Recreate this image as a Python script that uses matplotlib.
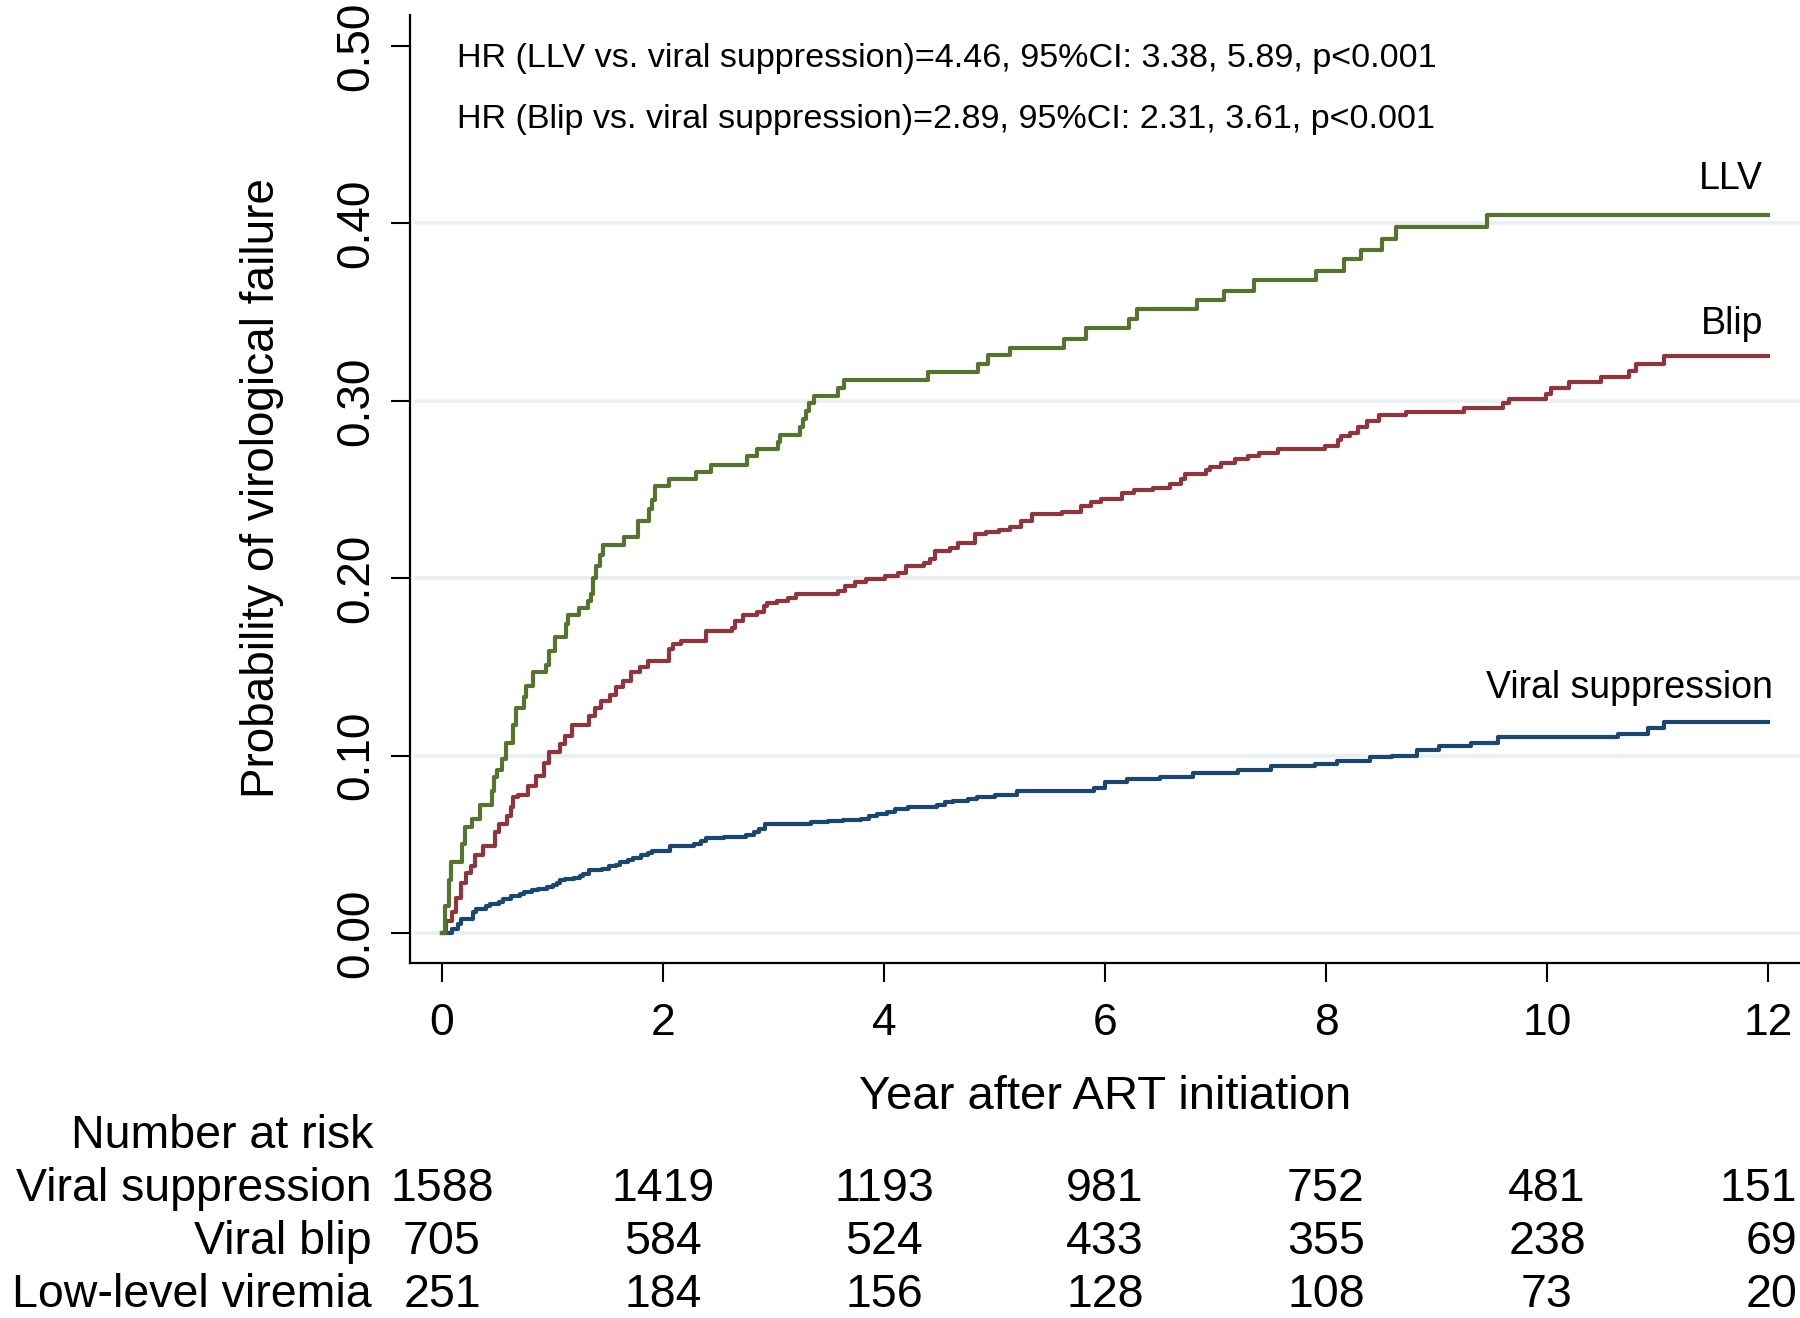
import matplotlib
matplotlib.use("Agg")
import matplotlib.pyplot as plt
import matplotlib.transforms as mtransforms

plt.rcParams['font.family'] = ['Liberation Sans', 'DejaVu Sans']

# Kaplan-Meier failure curves (years, cumulative probability)
llv_t = [0, 0.03, 0.06, 0.08, 0.18, 0.21, 0.27, 0.34, 0.45, 0.47, 0.50, 0.54, 0.58,
         0.64, 0.67, 0.74, 0.76, 0.82, 0.94, 0.97, 1.02, 1.12, 1.14, 1.24, 1.32, 1.35,
         1.37, 1.39, 1.43, 1.46, 1.65, 1.77, 1.87, 1.90, 1.93, 2.05, 2.30, 2.43, 2.76,
         2.85, 3.04, 3.06, 3.24, 3.27, 3.29, 3.32, 3.37, 3.58, 3.64, 4.40, 4.85, 4.94,
         5.14, 5.63, 5.83, 6.22, 6.29, 6.83, 7.08, 7.35, 7.91, 8.16, 8.32, 8.51, 8.63,
         9.46, 12.0]
llv_p = [0, 0.015, 0.030, 0.040, 0.050, 0.060, 0.064, 0.072, 0.080, 0.088, 0.092, 0.098, 0.107,
         0.117, 0.127, 0.133, 0.139, 0.147, 0.151, 0.159, 0.167, 0.174, 0.179, 0.183, 0.187, 0.191,
         0.200, 0.207, 0.213, 0.219, 0.223, 0.232, 0.239, 0.244, 0.252, 0.256, 0.260, 0.264, 0.269,
         0.273, 0.277, 0.281, 0.285, 0.290, 0.294, 0.299, 0.303, 0.307, 0.312, 0.316, 0.321, 0.326,
         0.330, 0.335, 0.341, 0.346, 0.352, 0.357, 0.362, 0.368, 0.373, 0.380, 0.385, 0.391, 0.398,
         0.405, 0.405]

blip_t = [0, 0.04, 0.09, 0.13, 0.17, 0.22, 0.26, 0.30, 0.37, 0.48, 0.52, 0.59, 0.62, 0.64,
          0.69, 0.78, 0.85, 0.92, 0.97, 1.07, 1.11, 1.18, 1.33, 1.38, 1.44, 1.52, 1.57, 1.64,
          1.71, 1.79, 1.86, 2.05, 2.09, 2.16, 2.39, 2.62, 2.65, 2.72, 2.85, 2.91, 2.94, 3.03,
          3.13, 3.20, 3.58, 3.65, 3.74, 3.84, 4.01, 4.13, 4.20, 4.36, 4.42, 4.46, 4.60, 4.67,
          4.82, 4.92, 5.04, 5.14, 5.24, 5.34, 5.61, 5.78, 5.87, 5.96, 6.15, 6.26, 6.43, 6.59,
          6.69, 6.72, 6.91, 6.95, 7.05, 7.18, 7.29, 7.39, 7.57, 7.99, 8.11, 8.14, 8.22, 8.29,
          8.37, 8.48, 8.72, 9.25, 9.60, 9.66, 9.99, 10.04, 10.20, 10.49, 10.74, 10.81, 11.06,
          12.0]
blip_p = [0, 0.007, 0.012, 0.020, 0.028, 0.034, 0.038, 0.044, 0.049, 0.057, 0.0615, 0.066, 0.071, 0.0765,
          0.078, 0.083, 0.0887, 0.096, 0.102, 0.1066, 0.111, 0.117, 0.1225, 0.127, 0.131, 0.134, 0.1385, 0.142,
          0.147, 0.150, 0.1535, 0.160, 0.163, 0.1647, 0.1704, 0.172, 0.176, 0.179, 0.1807, 0.1844, 0.1863, 0.1869,
          0.189, 0.191, 0.193, 0.1957, 0.198, 0.1994, 0.2013, 0.2032, 0.207, 0.2088, 0.2107, 0.2154, 0.2173, 0.220,
          0.225, 0.226, 0.227, 0.229, 0.2325, 0.236, 0.2375, 0.2407, 0.243, 0.2446, 0.248, 0.250, 0.251, 0.253,
          0.2558, 0.259, 0.261, 0.2627, 0.265, 0.267, 0.2688, 0.2705, 0.2726, 0.2748, 0.278, 0.280, 0.282, 0.285,
          0.2886, 0.292, 0.2935, 0.2957, 0.299, 0.301, 0.304, 0.307, 0.3106, 0.3136, 0.317, 0.321, 0.325,
          0.325]

vs_t = [0, 0.09, 0.14, 0.17, 0.28, 0.31, 0.40, 0.43, 0.52, 0.55, 0.62, 0.71, 0.74, 0.81,
        0.87, 0.95, 1.00, 1.04, 1.07, 1.11, 1.19, 1.25, 1.28, 1.33, 1.45, 1.51, 1.57, 1.61,
        1.68, 1.73, 1.80, 1.86, 1.90, 2.06, 2.28, 2.34, 2.39, 2.55, 2.75, 2.82, 2.87, 2.92,
        3.05, 3.34, 3.49, 3.63, 3.79, 3.86, 3.94, 4.03, 4.10, 4.22, 4.48, 4.55, 4.62, 4.76,
        4.84, 5.00, 5.20, 5.90, 6.00, 6.20, 6.50, 6.80, 7.20, 7.50, 7.90, 8.10, 8.40, 8.60,
        8.82, 9.02, 9.31, 9.56, 10.64, 10.91, 11.06, 12.0]
vs_p = [0, 0.0024, 0.005, 0.008, 0.0118, 0.0137, 0.015, 0.0165, 0.0175, 0.0193, 0.0206, 0.022, 0.023, 0.024,
        0.025, 0.026, 0.0268, 0.0283, 0.030, 0.0306, 0.0311, 0.0319, 0.033, 0.0356, 0.0362, 0.0375, 0.0383, 0.040,
        0.0413, 0.0424, 0.0437, 0.045, 0.0465, 0.0493, 0.0503, 0.0518, 0.0537, 0.0544, 0.0555, 0.0568, 0.0587, 0.0612,
        0.0615, 0.0625, 0.063, 0.0638, 0.0644, 0.0657, 0.0672, 0.068, 0.070, 0.0713, 0.0724, 0.0737, 0.0747, 0.0756,
        0.0765, 0.078, 0.080, 0.082, 0.085, 0.087, 0.088, 0.090, 0.092, 0.094, 0.095, 0.097, 0.099, 0.100,
        0.103, 0.1056, 0.107, 0.1103, 0.112, 0.1157, 0.119, 0.119]

# Number at risk table
risk_times = [0, 2, 4, 6, 8, 10, 12]
risk_groups = ["Viral suppression", "Viral blip", "Low-level viremia"]
risk_vs = [1588, 1419, 1193, 981, 752, 481, 151]
risk_blip = [705, 584, 524, 433, 355, 238, 69]
risk_llv = [251, 184, 156, 128, 108, 73, 20]

hr_lines = ["HR (LLV vs. viral suppression)=4.46, 95%CI: 3.38, 5.89, p<0.001",
            "HR (Blip vs. viral suppression)=2.89, 95%CI: 2.31, 3.61, p<0.001"]

NAVY = "#1a476f"
MAROON = "#90353b"
GREEN = "#55752f"
GRID = "#e8f0f2"

W, H = 1800, 1318
fig = plt.figure(figsize=(W / 100, H / 100), dpi=100)
ax = fig.add_axes([410 / W, (H - 963) / H, 1 - 410 / W, (963 - 15) / H])

for g in [0, 0.1, 0.2, 0.3, 0.4]:
    ax.axhline(g, xmin=0.004, color=GRID, lw=2.6, zorder=0)

ax.step(vs_t, vs_p, where="post", color=NAVY, lw=3.0, zorder=3)
ax.step(blip_t, blip_p, where="post", color=MAROON, lw=3.0, zorder=3)
ax.step(llv_t, llv_p, where="post", color=GREEN, lw=3.0, zorder=3)

ax.set_xlim(-0.29, 12.29)
ax.set_ylim(-0.0169, 0.5175)
ax.set_xticks(risk_times)
ax.set_yticks([0, 0.1, 0.2, 0.3, 0.4, 0.5])
ax.set_yticklabels(["%.2f" % v for v in ax.get_yticks()])
ax.tick_params(axis="x", length=14, width=1.5, labelsize=32, pad=15)
ax.tick_params(axis="y", length=14, width=1.5, labelsize=33, pad=9, labelrotation=90)
for lab in ax.get_yticklabels():
    lab.set_va("center")

for s in ["top", "right"]:
    ax.spines[s].set_visible(False)
for s in ["left", "bottom"]:
    ax.spines[s].set_linewidth(1.6)

ax.set_xlabel("Year after ART initiation", fontsize=34, labelpad=22)
fig.text(262 / W, 1 - 488 / H, "Probability of virological failure", rotation=90,
         ha="center", va="center", fontsize=33)

# HR annotations
for i, line in enumerate(hr_lines):
    fig.text(457 / W, 1 - (67 + 61 * i) / H, line, fontsize=24.6, va="baseline", ha="left")

# curve labels
fig.text(1763 / W, 1 - 189 / H, "LLV", fontsize=27, ha="right", va="baseline")
fig.text(1763 / W, 1 - 334 / H, "Blip", fontsize=27, ha="right", va="baseline")
fig.text(1773 / W, 1 - 698 / H, "Viral suppression", fontsize=27, ha="right", va="baseline")

# risk table
trans = mtransforms.blended_transform_factory(ax.transData, fig.transFigure)
fs_tab = 33.5
fig.text(373 / W, 1 - 1148 / H, "Number at risk", fontsize=fs_tab, ha="right", va="baseline")
for r, (name, counts) in enumerate(zip(risk_groups, [risk_vs, risk_blip, risk_llv])):
    yb = 1 - (1201 + 53 * r) / H
    fig.text(372 / W, yb, name, fontsize=fs_tab, ha="right", va="baseline")
    for t, n in zip(risk_times, counts):
        if t == risk_times[-1]:
            # last column sits against the right edge of the figure
            fig.text(1797 / W, yb, str(n), fontsize=fs_tab, ha="right", va="baseline")
        else:
            ax.text(t, yb, str(n), transform=trans, fontsize=fs_tab, ha="center",
                    va="baseline", clip_on=False)

fig.savefig("out.png", dpi=100)
